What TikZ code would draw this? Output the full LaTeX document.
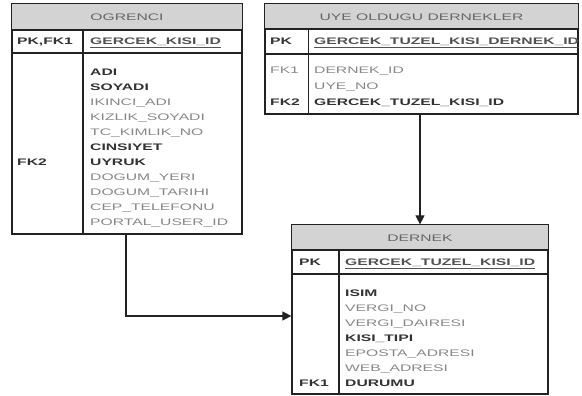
\documentclass[tikz,border=0pt]{standalone}
\usepackage{fontspec}
\usetikzlibrary{arrows.meta}
\newfontfamily\erfont[FakeStretch=1.65]{Liberation Sans}
\definecolor{frame}{HTML}{222222}
\definecolor{headfill}{HTML}{D3D3D3}
\definecolor{headtxt}{HTML}{666666}
\definecolor{keytxt}{HTML}{333333}
\definecolor{attrtxt}{HTML}{888888}
\tikzset{
  tablebox/.style={draw=frame, line width=1.2pt, fill=white, inner sep=0pt},
  sepline/.style={draw=frame, line width=1.2pt},
  headtext/.style={font=\erfont\fontsize{9.5}{11}\selectfont, text=headtxt, inner sep=0pt},
  keyattr/.style={anchor=base west, font=\erfont\fontsize{9.5}{11}\selectfont\bfseries, text=keytxt, inner sep=0pt},
  plainattr/.style={anchor=base west, font=\erfont\fontsize{9.5}{11}\selectfont, text=attrtxt, inner sep=0pt},
  pkattr/.style={anchor=base west, font=\erfont\fontsize{9.5}{11}\selectfont\bfseries, text=keytxt!85!white, inner sep=0pt},
  relarrow/.style={draw=frame, line width=1.2pt, -{Triangle[length=9pt,width=9pt]}}
}
\begin{document}
\begin{tikzpicture}[x=1pt, y=-1pt, yshift=396pt]
\useasboundingbox (0,0) rectangle (582,396);

% ---------------- OGRENCI ----------------
\node[tablebox, minimum width=230pt, minimum height=230pt] (ogr) at (127,119) {};
\fill[headfill] (12,4) rectangle (242,30);
\draw[sepline] (12,30) -- (242,30);
\draw[sepline] (12,53) -- (242,53);
\draw[sepline] (83,30) -- (83,234);
\draw[frame, line width=1.2pt] (ogr.south west) rectangle (ogr.north east);
\node[headtext] (ogrh) at (127,17) {OGRENCI};
\node[keyattr] (ogrpk) at (17,44.5) {PK,FK1};
\node[pkattr] (ogrid) at (90,44.5) {\underline{GERCEK\_KISI\_ID}};
\node[keyattr]   (o1)  at (90,75.5)  {ADI};
\node[keyattr]   (o2)  at (90,90.5)  {SOYADI};
\node[plainattr] (o3)  at (90,105.5) {IKINCI\_ADI};
\node[plainattr] (o4)  at (90,120.5) {KIZLIK\_SOYADI};
\node[plainattr] (o5)  at (90,135.5) {TC\_KIMLIK\_NO};
\node[keyattr]   (o6)  at (90,150.5) {CINSIYET};
\node[keyattr]   (o7)  at (90,165.5) {UYRUK};
\node[plainattr] (o8)  at (90,180.5) {DOGUM\_YERI};
\node[plainattr] (o9)  at (90,195.5) {DOGUM\_TARIHI};
\node[plainattr] (o10) at (90,210.5) {CEP\_TELEFONU};
\node[plainattr] (o11) at (90,225.5) {PORTAL\_USER\_ID};
\node[keyattr]   (ofk2) at (17,165.5) {FK2};

% ---------------- UYE OLDUGU DERNEKLER ----------------
\node[tablebox, minimum width=313pt, minimum height=110pt] (uye) at (421.5,59) {};
\fill[headfill] (265,4) rectangle (578,29);
\draw[sepline] (265,29) -- (578,29);
\draw[sepline] (265,54) -- (578,54);
\draw[sepline] (308.5,29) -- (308.5,114);
\draw[frame, line width=1.2pt] (uye.south west) rectangle (uye.north east);
\node[headtext] (uyeh) at (421.5,17) {UYE OLDUGU DERNEKLER};
\node[keyattr] (uyepk) at (270,45) {PK};
\node[pkattr] (uyeid) at (314,45) {\underline{GERCEK\_TUZEL\_KISI\_DERNEK\_ID}};
\node[plainattr] (ufk1) at (270,73.5)  {FK1};
\node[plainattr] (u1)   at (314,73.5)  {DERNEK\_ID};
\node[plainattr] (u2)   at (314,89.5)  {UYE\_NO};
\node[keyattr]   (ufk2) at (270,105.5) {FK2};
\node[keyattr]   (u3)   at (314,105.5) {GERCEK\_TUZEL\_KISI\_ID};

% ---------------- DERNEK ----------------
\node[tablebox, minimum width=256pt, minimum height=169pt] (der) at (420,309.5) {};
\fill[headfill] (292,225) rectangle (548,250);
\draw[sepline] (292,250) -- (548,250);
\draw[sepline] (292,274) -- (548,274);
\draw[sepline] (339,250) -- (339,394);
\draw[frame, line width=1.2pt] (der.south west) rectangle (der.north east);
\node[headtext] (derh) at (420,238) {DERNEK};
\node[keyattr] (derpk) at (299,265.5) {PK};
\node[pkattr] (derid) at (345,265.5) {\underline{GERCEK\_TUZEL\_KISI\_ID}};
\node[keyattr]   (d1) at (345,296.5) {ISIM};
\node[plainattr] (d2) at (345,311.5) {VERGI\_NO};
\node[plainattr] (d3) at (345,326.5) {VERGI\_DAIRESI};
\node[keyattr]   (d4) at (345,341.5) {KISI\_TIPI};
\node[plainattr] (d5) at (345,356.5) {EPOSTA\_ADRESI};
\node[plainattr] (d6) at (345,371.5) {WEB\_ADRESI};
\node[keyattr]   (d7) at (345,386.5) {DURUMU};
\node[keyattr]   (dfk1) at (299,386.5) {FK1};

% ---------------- relationships ----------------
\coordinate (bend) at (126,316);
\draw[relarrow] (ogr.south -| bend) |- (der.west |- bend);
\draw[relarrow] (uye.south -| der.north) -- (der.north);
\end{tikzpicture}
\end{document}
